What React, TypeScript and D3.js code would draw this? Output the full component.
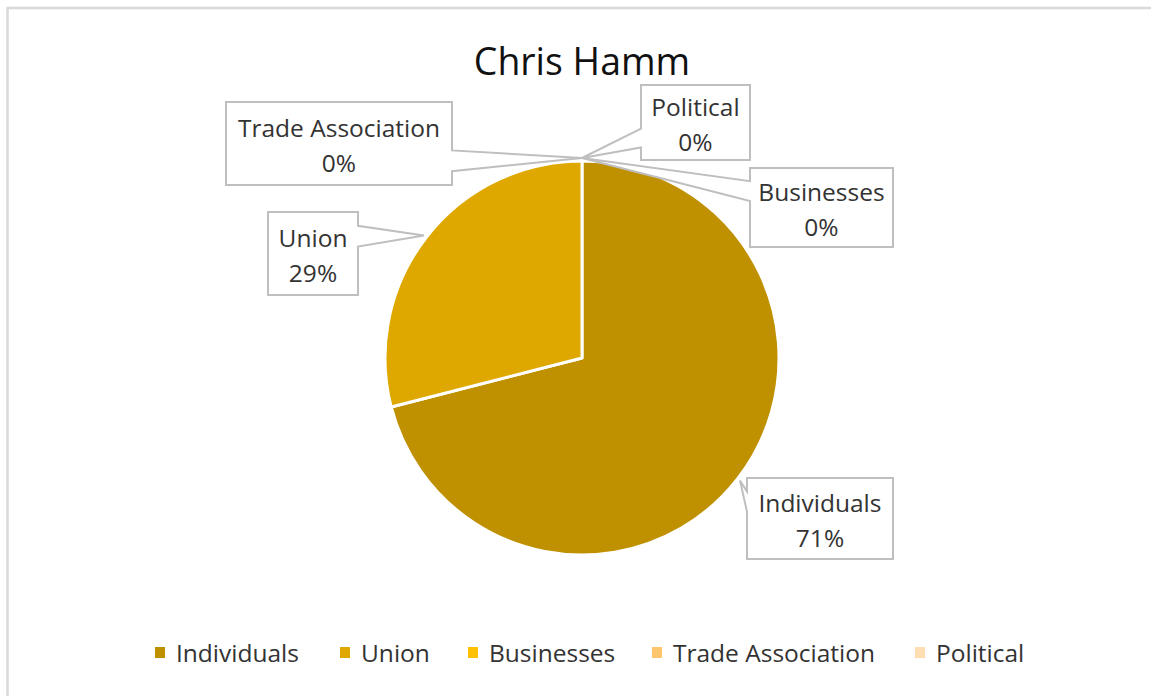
import * as d3 from 'd3';

const CATEGORIES = ['Individuals', 'Union', 'Businesses', 'Trade Association', 'Political'];
const VALUES = [71, 29, 0, 0, 0];
const PCT_LABELS = ['71%', '29%', '0%', '0%', '0%'];
const COLORS = ['#BF9000', '#DFA800', '#FFC000', '#FFC66E', '#FFDDB3'];
const TITLE = 'Chris Hamm';

const VW = 1151;
const VH = 696;
const CX = 582;
const CY = 358;
const R = 197;
const FONT = '"Open Sans", "Noto Sans", sans-serif';

// callout boxes, in the same order as CATEGORIES
const BOXES = [
  { x: 747, y: 478, w: 146, h: 81 },
  { x: 268, y: 212, w: 90, h: 83 },
  { x: 750, y: 168, w: 143, h: 79 },
  { x: 226, y: 102, w: 226, h: 83 },
  { x: 641, y: 85, w: 109, h: 75 },
];

const LEGEND_X = [155, 340, 468, 652, 915];
const LEGEND_Y = 653;

// wedgeRectCallout-like path
function calloutPath(b: { x: number; y: number; w: number; h: number }, tx: number, ty: number) {
  const l = b.x, t = b.y, r = b.x + b.w, bt = b.y + b.h;
  const dx = tx - (l + b.w / 2);
  const dy = ty - (t + b.h / 2);
  const dq = (dx * b.h) / b.w;
  const vertical = Math.abs(dy) - Math.abs(dq) > 0;
  if (!vertical) {
    const g1 = dy > 0 ? 7 : 2, g2 = dy > 0 ? 10 : 5;
    const y1 = t + (b.h * g1) / 12, y2 = t + (b.h * g2) / 12;
    if (dx < 0) {
      return `M${l},${t}L${r},${t}L${r},${bt}L${l},${bt}L${l},${y2}L${tx},${ty}L${l},${y1}Z`;
    }
    return `M${l},${t}L${r},${t}L${r},${y1}L${tx},${ty}L${r},${y2}L${r},${bt}L${l},${bt}Z`;
  }
  const g1 = dx > 0 ? 7 : 2, g2 = dx > 0 ? 10 : 5;
  const x1 = l + (b.w * g1) / 12, x2 = l + (b.w * g2) / 12;
  if (dy < 0) {
    return `M${l},${t}L${x1},${t}L${tx},${ty}L${x2},${t}L${r},${t}L${r},${bt}L${l},${bt}Z`;
  }
  return `M${l},${t}L${r},${t}L${r},${bt}L${x2},${bt}L${tx},${ty}L${x1},${bt}L${l},${bt}Z`;
}

export default function App() {
  const pie = d3.pie<number>().sort(null).value(d => d);
  const arcs = pie(VALUES);
  const arc = d3.arc<d3.PieArcDatum<number>>().innerRadius(0).outerRadius(R);
  const tipArc = d3.arc<d3.PieArcDatum<number>>().innerRadius(R + 3).outerRadius(R + 3);

  return (
    <svg width={VW} height={VH} viewBox={`0 0 ${VW} ${VH}`}
      style={{ position: 'absolute', left: 0, top: 0, display: 'block', background: '#fff' }}>
      <rect x={7.5} y={8} width={1300} height={900} fill="#fff" stroke="#d9d9d9" strokeWidth={2.5} />

      <text x={CX} y={75} textAnchor="middle" fontSize={37.4} fill="#111" fontFamily={FONT}>
        {TITLE}
      </text>

      <g transform={`translate(${CX},${CY})`}>
        {arcs.map((a, i) => (
          a.value > 0 ? (
            <path key={i} d={arc(a) ?? ''} fill={COLORS[i]} stroke="#fff" strokeWidth={3} strokeLinejoin="round" />
          ) : null
        ))}
      </g>

      {arcs.map((a, i) => {
        const [px, py] = tipArc.centroid(a);
        const b = BOXES[i];
        const cx = b.x + b.w / 2;
        const cy = b.y + b.h / 2;
        return (
          <g key={`c${i}`}>
            <path d={calloutPath(b, CX + px, CY + py)} fill="#fff" stroke="#bfbfbf" strokeWidth={2} />
            <text x={cx} y={cy - 15} dy="0.35em" textAnchor="middle" fontSize={24.5} fill="#333" fontFamily={FONT}>
              {CATEGORIES[i]}
            </text>
            <text x={cx} y={cy + 20} dy="0.35em" textAnchor="middle" fontSize={24.5} fill="#333" fontFamily={FONT}>
              {PCT_LABELS[i]}
            </text>
          </g>
        );
      })}

      {CATEGORIES.map((c, i) => (
        <g key={`l${i}`} transform={`translate(${LEGEND_X[i]},${LEGEND_Y})`}>
          <rect x={0} y={-6} width={10} height={11} fill={COLORS[i]} />
          <text x={21} y={0} dy="0.35em" fontSize={24.5} fill="#333" fontFamily={FONT}>
            {c}
          </text>
        </g>
      ))}
    </svg>
  );
}
